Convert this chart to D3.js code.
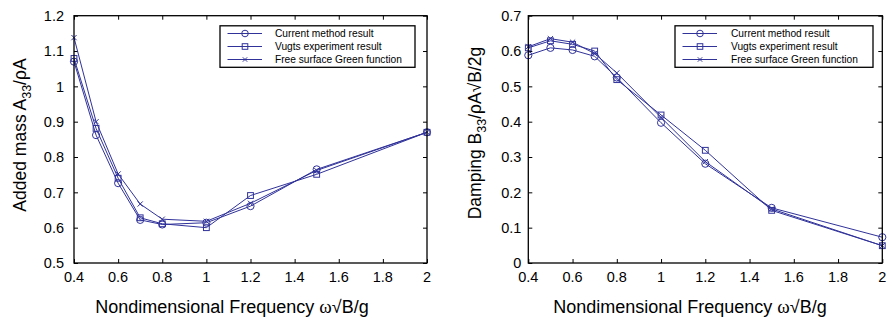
<!DOCTYPE html>
<html>
<head>
<meta charset="utf-8">
<script src="https://cdn.jsdelivr.net/npm/d3@7"></script>
<style>
  body { margin: 0; background: #fff; }
  text { font-family: "Liberation Sans", Arial, Helvetica, sans-serif; fill: #000; }
</style>
</head>
<body>
<script>
// frequencies (x values)
var freq = [0.4, 0.5, 0.6, 0.7, 0.8, 1.0, 1.2, 1.5, 2.0];

// added mass A33/rhoA
var massCurrent = [1.070, 0.862, 0.726, 0.622, 0.609, 0.614, 0.661, 0.765, 0.870];
var massVugts   = [1.079, 0.881, 0.740, 0.628, 0.611, 0.600, 0.691, 0.751, 0.870];
var massGreen   = [1.138, 0.900, 0.752, 0.667, 0.624, 0.618, 0.669, 0.762, 0.870];

// damping B33/rhoA sqrt(B/2g)
var dampCurrent = [0.588, 0.609, 0.603, 0.585, 0.525, 0.397, 0.281, 0.156, 0.073];
var dampVugts   = [0.609, 0.629, 0.619, 0.600, 0.519, 0.419, 0.319, 0.149, 0.049];
var dampGreen   = [0.612, 0.635, 0.625, 0.593, 0.538, 0.412, 0.287, 0.153, 0.049];

var seriesNames = ["Current method result", "Vugts experiment result", "Free surface Green function"];
var markers = ["circle", "square", "cross"];

var xTicks = [0.4, 0.6, 0.8, 1, 1.2, 1.4, 1.6, 1.8, 2];
var massTicks = [0.5, 0.6, 0.7, 0.8, 0.9, 1, 1.1, 1.2];
var dampTicks = [0, 0.1, 0.2, 0.3, 0.4, 0.5, 0.6, 0.7];

var lineColor = "#30329a";

var svg = d3.select("body").append("svg")
  .attr("width", 893)
  .attr("height", 321);

function drawMarker(g, type, x, y, big) {
  var r = big ? 3.6 : 3.3;
  if (type == "circle") {
    g.append("circle").attr("cx", x).attr("cy", y).attr("r", r)
      .attr("fill", "none").attr("stroke", lineColor).attr("stroke-width", 1);
  } else if (type == "square") {
    var s = big ? 2.9 : 2.8;
    g.append("rect").attr("x", x - s).attr("y", y - s).attr("width", 2 * s).attr("height", 2 * s)
      .attr("fill", "none").attr("stroke", lineColor).attr("stroke-width", 1);
  } else {
    var c = big ? 2.6 : 2.2;
    g.append("path")
      .attr("d", "M" + (x - c) + "," + (y - c) + "L" + (x + c) + "," + (y + c) +
                 "M" + (x - c) + "," + (y + c) + "L" + (x + c) + "," + (y - c))
      .attr("stroke", lineColor).attr("stroke-width", 1).attr("fill", "none");
  }
}

function drawPanel(opt) {
  var left = opt.left, right = opt.right, top = 15.7, bottom = 263;

  var x = d3.scaleLinear().domain([0.4, 2]).range([left, right]);
  var y = d3.scaleLinear().domain(opt.yDomain).range([bottom, top]);

  var g = svg.append("g");

  // inward ticks on all four sides
  g.append("g").attr("transform", "translate(0," + bottom + ")")
    .call(d3.axisBottom(x).tickValues(xTicks).tickSizeInner(-4).tickSizeOuter(0).tickFormat(""))
    .call(s => s.select(".domain").remove());
  g.append("g").attr("transform", "translate(0," + top + ")")
    .call(d3.axisTop(x).tickValues(xTicks).tickSizeInner(-4).tickSizeOuter(0).tickFormat(""))
    .call(s => s.select(".domain").remove());
  g.append("g").attr("transform", "translate(" + left + ",0)")
    .call(d3.axisLeft(y).tickValues(opt.yTicks).tickSizeInner(-4).tickSizeOuter(0).tickFormat(""))
    .call(s => s.select(".domain").remove());
  g.append("g").attr("transform", "translate(" + right + ",0)")
    .call(d3.axisRight(y).tickValues(opt.yTicks).tickSizeInner(-4).tickSizeOuter(0).tickFormat(""))
    .call(s => s.select(".domain").remove());

  g.selectAll(".tick line").attr("stroke", "#000").attr("stroke-width", 1);

  // tick labels
  g.selectAll(".xlab").data(xTicks).enter().append("text")
    .attr("x", d => x(d)).attr("y", 282)
    .attr("text-anchor", "middle").attr("font-size", 14.5)
    .text(d => d3.format("~g")(d));
  g.selectAll(".ylab").data(opt.yTicks).enter().append("text")
    .attr("x", left - opt.labGap).attr("y", d => y(d)).attr("dy", "0.36em")
    .attr("text-anchor", "end").attr("font-size", 14.5)
    .text(d => d3.format("~g")(d));

  // series
  var line = d3.line().x((d, i) => x(freq[i])).y(d => y(d));
  opt.series.forEach(function (vals, k) {
    g.append("path").datum(vals).attr("d", line)
      .attr("fill", "none").attr("stroke", lineColor).attr("stroke-width", 1);
    vals.forEach(function (v, i) {
      drawMarker(g, markers[k], x(freq[i]), y(v), true);
    });
  });

  // box
  g.append("rect").attr("x", left).attr("y", top)
    .attr("width", right - left).attr("height", bottom - top)
    .attr("fill", "none").attr("stroke", "#000").attr("stroke-width", 1.3);

  // legend
  var lg = g.append("g");
  lg.append("rect").attr("x", opt.legX).attr("y", 25.8)
    .attr("width", opt.legW).attr("height", 41.5)
    .attr("fill", "#fff").attr("stroke", "#000").attr("stroke-width", 1.3);
  seriesNames.forEach(function (name, k) {
    var ly = 33.5 + k * 13;
    lg.append("line").attr("x1", opt.legX + 7.5).attr("x2", opt.legX + 42)
      .attr("y1", ly).attr("y2", ly).attr("stroke", lineColor).attr("stroke-width", 1);
    drawMarker(lg, markers[k], opt.legX + 25, ly, false);
    lg.append("text").attr("x", opt.legX + opt.legText).attr("y", ly).attr("dy", "0.35em")
      .attr("font-size", 10.2).text(name);
  });

  // x title
  var xt = g.append("text").attr("x", opt.xTitleX).attr("y", 313)
    .attr("text-anchor", "middle").attr("font-size", 18);
  xt.append("tspan").text("Nondimensional Frequency ");
  xt.append("tspan").attr("font-family", "'Liberation Serif', serif").attr("font-size", 19).text("ω");
  xt.append("tspan").text("√B/g");

  // y title
  var yt = g.append("text")
    .attr("transform", "translate(" + opt.yTitleX + "," + opt.yTitleY + ") rotate(-90)")
    .attr("text-anchor", "middle").attr("font-size", 17.5);
  opt.yTitle(yt);
}

drawPanel({
  left: 74, right: 427,
  yDomain: [0.5, 1.2], yTicks: massTicks, labGap: 10,
  series: [massCurrent, massVugts, massGreen],
  legX: 220, legW: 195, legText: 55,
  xTitleX: 232, yTitleX: 26, yTitleY: 135,
  yTitle: function (t) {
    t.append("tspan").text("Added mass A");
    t.append("tspan").attr("font-size", 12.5).attr("dy", 5).text("33");
    t.append("tspan").attr("dy", -5).text("/ρA");
  }
});

drawPanel({
  left: 528.3, right: 882.3,
  yDomain: [0, 0.7], yTicks: dampTicks, labGap: 7,
  series: [dampCurrent, dampVugts, dampGreen],
  legX: 675, legW: 198, legText: 56,
  xTitleX: 690, yTitleX: 481, yTitleY: 133,
  yTitle: function (t) {
    t.append("tspan").text("Damping B");
    t.append("tspan").attr("font-size", 12.5).attr("dy", 5).text("33");
    t.append("tspan").attr("dy", -5).text("/ρA√B/2g");
  }
});
</script>
</body>
</html>
